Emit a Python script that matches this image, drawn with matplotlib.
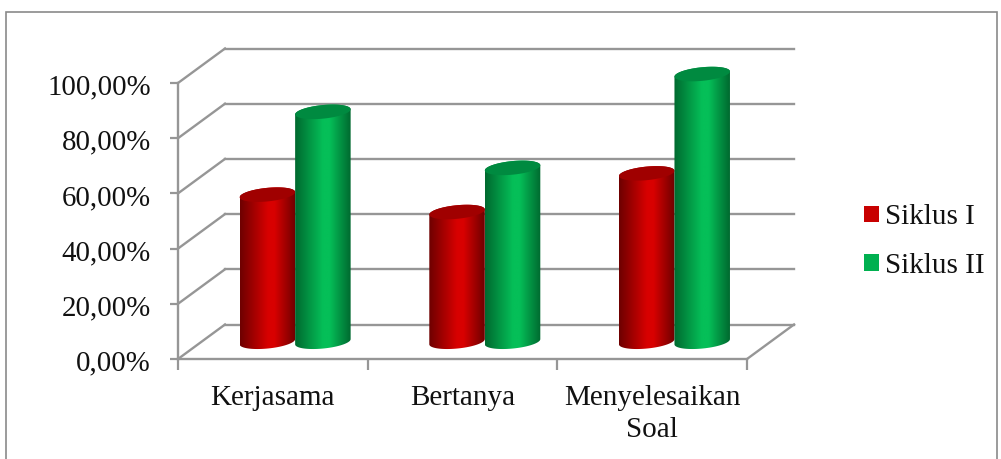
import numpy as np
import matplotlib
matplotlib.use("Agg")
import matplotlib.pyplot as plt
from matplotlib.patches import Patch, PathPatch, Polygon, Rectangle
from matplotlib.path import Path
from matplotlib.colors import LinearSegmentedColormap
from matplotlib.transforms import ScaledTranslation

categories = ["Kerjasama", "Bertanya", "Menyelesaikan\nSoal"]
siklus_1 = [53.3, 47.0, 61.0]
siklus_2 = [83.3, 63.0, 97.0]
series_names = ["Siklus I", "Siklus II"]
y_ticks = [0, 20, 40, 60, 80, 100]
y_labels = ["0,00%", "20,00%", "40,00%", "60,00%", "80,00%", "100,00%"]

W, H = 1001, 459
L, R, T, B = 178, 747, 83, 359
fig = plt.figure(figsize=(W / 100, H / 100), dpi=100, facecolor="white")
plt.rcParams["font.family"] = ["Liberation Serif"]
ax = fig.add_axes([L / W, 1 - B / H, (R - L) / W, (B - T) / H])
ax.set_xlim(0, 3)
ax.set_ylim(0, 100)
ax.patch.set_alpha(0)

GRAY = "#969696"
px = 3 / (R - L)        # data units per pixel, x
py = 100 / (B - T)      # data units per pixel, y
dx, dy = 47 * px, 34.5 * py

# outer chart frame
fig.add_artist(Rectangle((6 / W, -0.02), 991 / W, 1 - 12 / H + 0.02, transform=fig.transFigure,
                         fc="none", ec="#8a8a8a", lw=1.2))

# 3D walls: back gridlines and left-wall diagonals
for v in y_ticks:
    ax.plot([dx, 3 + dx], [v + dy, v + dy], color=GRAY, lw=1.7, clip_on=False, zorder=1)
    ax.plot([0, dx], [v, v + dy], color=GRAY, lw=1.7, clip_on=False, zorder=1)
ax.plot([3, 3 + dx], [0, dy], color=GRAY, lw=1.7, clip_on=False, zorder=1)

for s in ("top", "right"):
    ax.spines[s].set_visible(False)
for s in ("left", "bottom"):
    ax.spines[s].set_color(GRAY)
    ax.spines[s].set_linewidth(1.7)
    ax.spines[s].set_zorder(1)

ax.set_yticks(y_ticks)
ax.set_yticklabels(y_labels, fontsize=20.8, color="#111111")
ax.set_xticks([0, 1, 2, 3])
ax.set_xticklabels([])
ax.set_xticks([0.5, 1.5, 2.5], minor=True)
ax.set_xticklabels(categories, minor=True, fontsize=21, color="#111111", linespacing=1.28)
ax.tick_params(axis="y", length=6, width=1.6, color=GRAY, pad=13.5)
ax.tick_params(axis="x", which="major", length=8, width=1.6, color=GRAY)
ax.tick_params(axis="x", which="minor", length=0, pad=19)
shift = ScaledTranslation(0, -1.5 / 100, fig.dpi_scale_trans)
for lab in ax.get_yticklabels():
    lab.set_transform(lab.get_transform() + shift)

def gradient(dark, mid):
    return LinearSegmentedColormap.from_list("g", [(0, dark), (0.5, mid), (0.62, mid), (1, dark)])

styles = [
    (gradient("#6e0000", "#d80000"), "#a00000"),
    (gradient("#00692f", "#05bf58"), "#008a40"),
]
bar_w = 55.5 * px
half_b, shear = 6.8, 2.6
t = np.linspace(0, 2 * np.pi, 80)

def rim(cx, cy, th):
    return (cx + bar_w / 2 * np.cos(th),
            cy + (half_b * np.sin(th) + shear * np.cos(th)) * py)

for s, values in enumerate([siklus_1, siklus_2]):
    cmap, top_col = styles[s]
    for c, v in enumerate(values):
        cx = c + 0.5 + dx / 2 + (s - 0.5) * bar_w - 1.2 * px
        y0 = dy / 2
        y1 = y0 + v
        # body outline: lower front arc, then up and across the top
        xb, yb = rim(cx, y0, np.linspace(np.pi, 2 * np.pi, 40))
        xt, yt = rim(cx, y1, np.linspace(0, np.pi, 40))
        verts = np.column_stack([np.r_[xb, xt], np.r_[yb, yt]])
        body = PathPatch(Path(np.vstack([verts, verts[0]]), closed=True),
                         transform=ax.transData, fc="none", ec="none")
        im = ax.imshow(np.linspace(0, 1, 128)[None, :], cmap=cmap, aspect="auto",
                       extent=(cx - bar_w / 2, cx + bar_w / 2, y0 - 12 * py, y1 + 12 * py),
                       zorder=3 + s, interpolation="bilinear")
        im.set_clip_box(fig.bbox)
        im.set_clip_path(body)
        xe, ye = rim(cx, y1, t)
        ax.add_patch(Polygon(np.column_stack([xe, ye]), closed=True, fc=top_col, ec="none",
                             zorder=3 + s, clip_on=False))

ax.set_xlim(0, 3)
ax.set_ylim(0, 100)

handles = [Patch(fc="#c80000", ec="none"), Patch(fc="#00b050", ec="none")]
fig.legend(handles, series_names, loc="center left", bbox_to_anchor=(864 / W, 1 - 241.5 / H),
           frameon=False, fontsize=21, handlelength=0.51, handleheight=0.51,
           handletextpad=0.2, labelspacing=0.77, borderpad=0, borderaxespad=0,
           labelcolor="#111111")

fig.savefig("out.png", dpi=100)
